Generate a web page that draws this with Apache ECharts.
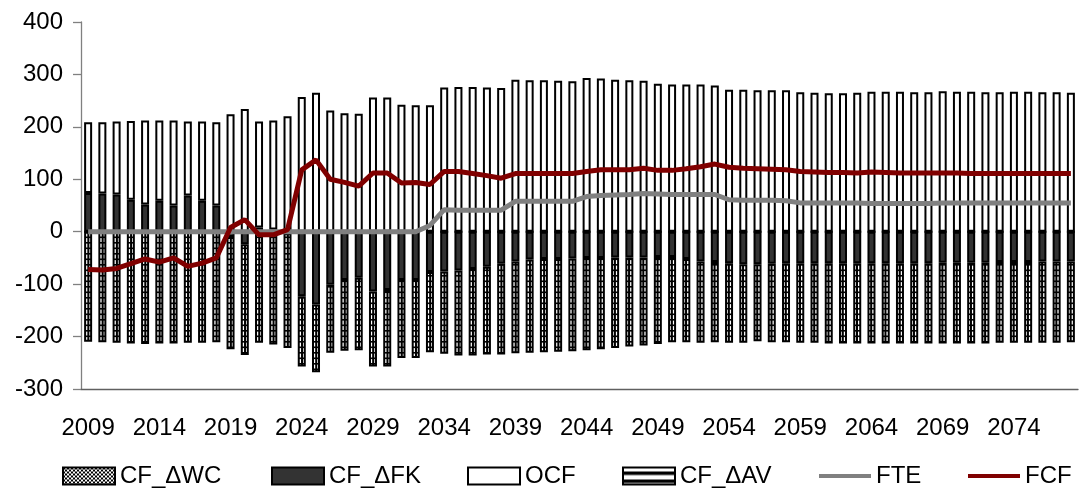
<!DOCTYPE html>
<html>
<head>
<meta charset="utf-8">
<script src="https://cdn.jsdelivr.net/npm/echarts@6/dist/echarts.min.js"></script>
<style>
  html, body { margin: 0; padding: 0; background: #fff; }
  #chart { width: 1081px; height: 496px; }
</style>
</head>
<body>
<div id="chart"></div>
<script>
const years = Array.from({ length: 70 }, (_, i) => String(2009 + i));

const cfWC = new Array(70).fill(0);

const cfFK = [
  74, 73, 71, 61, 52, 59, 50, 69, 59, 50,
  -10, -24, 8, 4, -3, -123, -139, -101, -92, -88,
  -114, -111, -92, -92, -77, -76, -74, -71, -67, -61,
  -57, -53, -52, -52, -51, -50, -50, -49, -49, -49,
  -48, -48, -52, -57, -58, -60, -62, -62, -61, -60,
  -60, -60, -60, -60, -60, -60, -60, -60, -60, -60,
  -59, -59, -59, -59, -58, -58, -58, -57, -57, -57
];

const ocf = [
  135, 136, 139, 150, 160, 153, 162, 141, 151, 159,
  224, 234, 202, 208, 220, 257, 265, 231, 226, 225,
  256, 256, 242, 241, 241, 275, 276, 276, 275, 274,
  290, 289, 289, 288, 287, 293, 292, 290, 289, 288,
  282, 281, 281, 281, 279, 271, 271, 270, 270, 270,
  266, 265, 264, 264, 265, 267, 267, 267, 266, 266,
  268, 267, 267, 266, 266, 267, 267, 266, 266, 265
];

const cfAV = [
  -210, -211, -212, -213, -214, -213, -213, -212, -212, -211,
  -214, -211, -212, -215, -219, -134, -129, -130, -135, -138,
  -143, -146, -149, -149, -153, -157, -162, -165, -167, -173,
  -175, -178, -178, -177, -177, -176, -174, -173, -170, -168,
  -166, -163, -159, -155, -153, -152, -150, -147, -150, -151,
  -152, -152, -153, -153, -153, -153, -153, -153, -153, -153,
  -154, -154, -154, -154, -154, -154, -154, -155, -155, -154
];

const fte = [
  0, 0, 0, 0, 0, 0, 0, 0, 0, 0,
  0, 0, 0, 0, 0, 0, 0, 0, 0, 0,
  0, 0, 0, 0, 12, 42, 41, 41, 41, 41,
  58, 58, 58, 58, 58, 67, 69, 70, 71, 73,
  72, 71, 71, 71, 71, 61, 60, 60, 60, 59,
  55, 55, 55, 55, 55, 54, 54, 54, 54, 54,
  55, 55, 55, 55, 55, 55, 55, 55, 55, 55
];

const fcf = [
  -72, -73, -70, -61, -52, -58, -50, -66, -60, -50,
  8, 23, -6, -6, 4, 118, 137, 100, 94, 87,
  112, 112, 93, 94, 90, 115, 115, 111, 107, 102,
  111, 111, 111, 111, 111, 115, 118, 118, 118, 121,
  117, 117, 120, 124, 129, 123, 121, 120, 119, 118,
  115, 114, 113, 113, 112, 114, 113, 112, 112, 112,
  112, 112, 111, 111, 111, 111, 111, 111, 111, 111
];

const W = 1081;
const gridLeft = 81, gridRight = 3;

function makePattern(w, h, draw) {
  const c = document.createElement('canvas');
  c.width = w;
  c.height = h;
  const ctx = c.getContext('2d');
  ctx.fillStyle = '#fff';
  ctx.fillRect(0, 0, w, h);
  ctx.fillStyle = '#000';
  draw(ctx);
  return { image: c, repeat: 'repeat' };
}

// "wide horizontal" fill as it looks scaled down in thin bars:
// horizontal rungs plus a divider down the middle of each bar.
// 35 bands fit the tile exactly, so the divider stays centred.
const band = (W - gridLeft - gridRight) / years.length;
const tileW = Math.round(band * 35);
const avPattern = makePattern(tileW, 11, ctx => {
  ctx.fillRect(0, 0, tileW, 1.6);
  ctx.fillRect(0, 5.5, tileW, 1.6);
  for (let k = 0; k < years.length; k++) {
    const cx = (gridLeft + (k + 0.5) * band) % tileW;
    ctx.fillRect(cx - 0.75, 0, 1.5, 11);
  }
});
const avLegendPattern = makePattern(1, 8, ctx => {
  ctx.fillRect(0, 4, 1, 3.5);
});
const wcPattern = makePattern(4, 4, ctx => {
  ctx.fillRect(0, 0, 2, 2);
  ctx.fillRect(2, 2, 2, 2);
});

const font = "'Liberation Sans', Arial, sans-serif";
const lineIcon = 'path://M0,0 H52 V4 H0 Z';

const legendItems = [
  { name: 'CF_ΔWC', icon: 'rect', left: 62 },
  { name: 'CF_ΔFK', icon: 'rect', left: 271 },
  { name: 'OCF', icon: 'rect', left: 467 },
  { name: 'CF_ΔAV', icon: 'rect', left: 622, itemStyle: { color: avLegendPattern } },
  { name: 'FTE', icon: lineIcon, left: 819, itemStyle: { color: '#808080', borderWidth: 0 } },
  { name: 'FCF', icon: lineIcon, left: 968, itemStyle: { color: '#800000', borderWidth: 0 } }
];

const chart = echarts.init(document.getElementById('chart'));

const barStyle = fill => ({ color: fill, borderColor: '#000', borderWidth: 2 });

chart.setOption({
  animation: false,
  textStyle: { fontFamily: font },
  grid: { left: gridLeft, right: gridRight, top: 22, bottom: 107 },
  legend: legendItems.map(({ left, ...item }) => ({
    left: left,
    top: 464,
    itemWidth: 52,
    itemHeight: 17,
    padding: 0,
    textStyle: { fontSize: 24, color: '#000', fontFamily: font },
    data: [item]
  })),
  xAxis: {
    type: 'category',
    data: years,
    axisLine: { onZero: false, lineStyle: { color: '#606060', width: 1.3 } },
    axisTick: { interval: 4, length: 8, lineStyle: { color: '#606060', width: 1.3 } },
    axisLabel: { interval: 4, fontSize: 24, color: '#000', margin: 27 },
    splitLine: { show: false }
  },
  yAxis: {
    type: 'value',
    min: -300,
    max: 400,
    interval: 100,
    axisLine: { show: true, lineStyle: { color: '#808080', width: 1.3 } },
    axisTick: { show: true, length: 8, lineStyle: { color: '#808080', width: 1.3 } },
    axisLabel: { fontSize: 24, color: '#000', margin: 18 },
    splitLine: { show: false }
  },
  series: [
    { name: 'CF_ΔWC', type: 'bar', stack: 'cf', barWidth: 8, data: cfWC, itemStyle: barStyle(wcPattern) },
    { name: 'CF_ΔFK', type: 'bar', stack: 'cf', barWidth: 8, data: cfFK, itemStyle: barStyle('#333333') },
    { name: 'OCF', type: 'bar', stack: 'cf', barWidth: 8, data: ocf, itemStyle: barStyle('#ffffff') },
    { name: 'CF_ΔAV', type: 'bar', stack: 'cf', barWidth: 8, data: cfAV, itemStyle: barStyle(avPattern) },
    {
      name: 'FTE', type: 'line', data: fte, symbol: 'none',
      itemStyle: { color: '#808080' },
      lineStyle: { color: '#808080', width: 5 }
    },
    {
      name: 'FCF', type: 'line', data: fcf, symbol: 'none',
      itemStyle: { color: '#800000' },
      lineStyle: { color: '#800000', width: 5 }
    }
  ]
});
</script>
</body>
</html>
